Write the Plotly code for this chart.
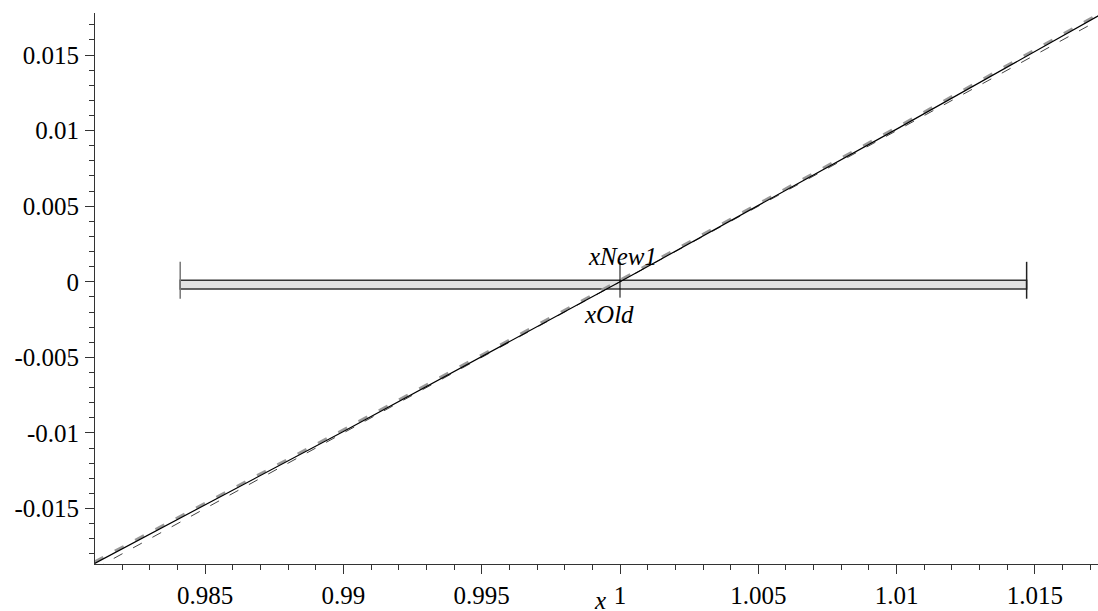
import plotly.graph_objects as go

# ---- data ----
x_pts = [0.981, 0.99, 1.0, 1.01, 1.0173]
f_vals = [-0.01864, -0.0099, 0.0, 0.0101, 0.0176]          # solid curve
g_vals = [-0.01852, -0.00978, 0.00012, 0.01022, 0.01772]   # light gray dashed curve
tan_vals = [-0.019, -0.01, 0.0, 0.01, 0.0173]              # dashed tangent line

interval = [0.9841, 1.0147]     # bar ends
x_old = 1.0
x_ticks = [0.985, 0.99, 0.995, 1.0, 1.005, 1.01, 1.015]
x_tick_text = ["0.985", "0.99", "0.995", "1", "1.005", "1.01", "1.015"]
y_ticks = [-0.015, -0.01, -0.005, 0.0, 0.005, 0.01, 0.015]
y_tick_text = ["-0.015", "-0.01", "-0.005", "0", "0.005", "0.01", "0.015"]

x_range = [0.98102, 1.01728]
y_range = [-0.01867, 0.01778]

FONT = "Liberation Serif"
FS = 25

fig = go.Figure()

fig.add_trace(go.Scatter(x=x_pts, y=g_vals, mode="lines",
                         line=dict(color="#9a9a9a", width=2.5, dash="10px,13px"),
                         hoverinfo="skip"))
fig.add_trace(go.Scatter(x=x_pts, y=tan_vals, mode="lines",
                         line=dict(color="#444444", width=1, dash="10px,12px"),
                         hoverinfo="skip"))
fig.add_trace(go.Scatter(x=x_pts, y=f_vals, mode="lines",
                         line=dict(color="black", width=1.2),
                         hoverinfo="skip"))

# interval bar
fig.add_shape(type="rect", xref="x", yref="y",
              x0=interval[0], x1=interval[1], y0=0.0001, y1=-0.00048,
              fillcolor="#e2e2e2", line=dict(color="#333333", width=1.5), layer="below")
fig.add_shape(type="line", xref="x", yref="y",
              x0=interval[0], x1=interval[0], y0=0.00132, y1=-0.00112,
              line=dict(color="#777777", width=1.5))
fig.add_shape(type="line", xref="x", yref="y",
              x0=interval[1], x1=interval[1], y0=0.00132, y1=-0.00112,
              line=dict(color="#222222", width=1.5))
fig.add_shape(type="line", xref="x", yref="y",
              x0=x_old, x1=x_old, y0=0.00132, y1=-0.00105,
              line=dict(color="black", width=1))

fig.add_annotation(x=x_old, y=0, xref="x", yref="y", text="<i>xNew1</i>",
                   showarrow=False, yanchor="middle", xshift=2, yshift=25,
                   font=dict(family=FONT, size=FS, color="black"))
fig.add_annotation(x=x_old, y=0, xref="x", yref="y", text="<i>xOld</i>",
                   showarrow=False, yanchor="middle", xshift=-11, yshift=-33,
                   font=dict(family=FONT, size=FS, color="black"))
fig.add_annotation(x=x_old, y=0, xref="x", yref="paper", text="<i>x</i>",
                   showarrow=False, xanchor="center", yanchor="middle",
                   xshift=-20, yshift=-36,
                   font=dict(family=FONT, size=FS, color="black"))

fig.update_xaxes(range=x_range, tickmode="array", tickvals=x_ticks, ticktext=x_tick_text,
                 ticks="outside", ticklen=9, tickwidth=1, tickcolor="#333333",
                 showline=True, linecolor="#333333", linewidth=1,
                 showgrid=False, zeroline=False, automargin=False,
                 minor=dict(dtick=0.001, tick0=0.98, ticks="outside", ticklen=5,
                            tickcolor="#333333", showgrid=False),
                 ticklabelstandoff=0,
                 tickfont=dict(family=FONT, size=FS, color="black"))
fig.update_yaxes(range=y_range, tickmode="array", tickvals=y_ticks, ticktext=y_tick_text,
                 ticks="outside", ticklen=9, tickwidth=1, tickcolor="#333333",
                 showline=True, linecolor="#333333", linewidth=1,
                 showgrid=False, zeroline=False, automargin=False,
                 minor=dict(dtick=0.001, tick0=0.0, ticks="outside", ticklen=5,
                            tickcolor="#333333", showgrid=False),
                 ticklabelstandoff=1,
                 tickfont=dict(family=FONT, size=FS, color="black"))

fig.update_layout(width=1098, height=611, showlegend=False,
                  plot_bgcolor="white", paper_bgcolor="white",
                  margin=dict(l=95, r=0, t=13, b=47))

fig.write_html("out.html", config={"displayModeBar": False},
               post_script="document.body.style.margin='0';document.body.style.overflow='hidden';")
